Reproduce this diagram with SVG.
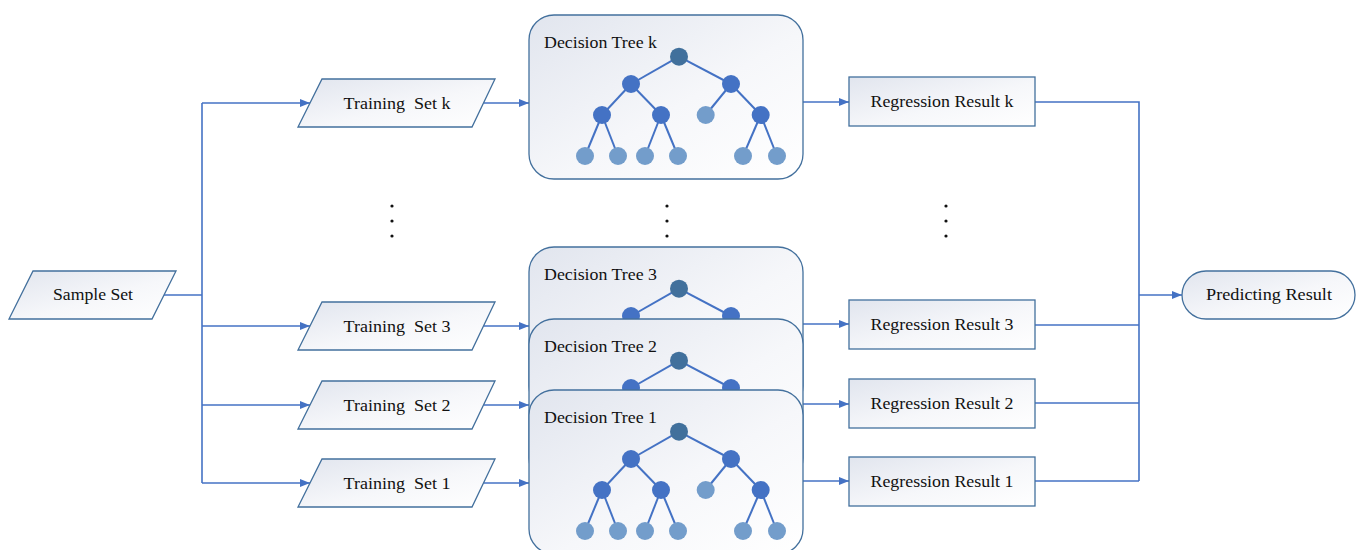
<svg xmlns="http://www.w3.org/2000/svg" xmlns:xlink="http://www.w3.org/1999/xlink" width="1362" height="550" viewBox="0 0 1362 550">
  <style>
    .shape { fill: url(#shapeFill); stroke: #43709D; stroke-width: 1.3; }
    .label { font-family: "Liberation Serif", "Times New Roman", serif; font-size: 17px; fill: #111; white-space: pre; }
    .mid { text-anchor: middle; }
    .wire { fill: none; stroke: #4472C4; stroke-width: 1.6; }
    .arrow { marker-end: url(#head); }
    .edge { stroke: #4472C4; stroke-width: 2; }
    .n-root { fill: #41709C; }
    .n-inner { fill: #4472C4; }
    .n-leaf { fill: #739DCB; }
    .dot { fill: #111; }
  </style>
  <defs>
    <linearGradient id="shapeFill" x1="0" y1="0" x2="1" y2="1">
      <stop offset="0" stop-color="#E1E5EE"/>
      <stop offset="0.55" stop-color="#F6F7FA"/>
      <stop offset="1" stop-color="#FFFFFF"/>
    </linearGradient>
    <marker id="head" viewBox="0 0 10 8" refX="10" refY="4" markerWidth="10" markerHeight="8" markerUnits="userSpaceOnUse" orient="auto">
      <path d="M0,0 L10,4 L0,8 z" fill="#4472C4"/>
    </marker>
    <!-- top of a tree: root and its two children (coordinates relative to box top) -->
    <g id="treeTop">
      <line class="edge" x1="679" y1="41.7" x2="631" y2="69"/>
      <line class="edge" x1="679" y1="41.7" x2="731" y2="69"/>
      <circle class="n-root" cx="679" cy="41.7" r="9"/>
      <circle class="n-inner" cx="631" cy="69" r="9"/>
      <circle class="n-inner" cx="731" cy="69" r="9"/>
    </g>
    <!-- full binary tree -->
    <g id="treeFull">
      <line class="edge" x1="631" y1="69" x2="602" y2="100"/>
      <line class="edge" x1="631" y1="69" x2="661" y2="100"/>
      <line class="edge" x1="731" y1="69" x2="705.7" y2="100"/>
      <line class="edge" x1="731" y1="69" x2="760.7" y2="100"/>
      <line class="edge" x1="602" y1="100" x2="585" y2="141"/>
      <line class="edge" x1="602" y1="100" x2="618" y2="141"/>
      <line class="edge" x1="661" y1="100" x2="645" y2="141"/>
      <line class="edge" x1="661" y1="100" x2="678" y2="141"/>
      <line class="edge" x1="760.7" y1="100" x2="743" y2="141"/>
      <line class="edge" x1="760.7" y1="100" x2="777" y2="141"/>
      <use xlink:href="#treeTop"/>
      <circle class="n-inner" cx="602" cy="100" r="9"/>
      <circle class="n-inner" cx="661" cy="100" r="9"/>
      <circle class="n-leaf" cx="705.7" cy="100" r="9"/>
      <circle class="n-inner" cx="760.7" cy="100" r="9"/>
      <circle class="n-leaf" cx="585" cy="141" r="9"/>
      <circle class="n-leaf" cx="618" cy="141" r="9"/>
      <circle class="n-leaf" cx="645" cy="141" r="9"/>
      <circle class="n-leaf" cx="678" cy="141" r="9"/>
      <circle class="n-leaf" cx="743" cy="141" r="9"/>
      <circle class="n-leaf" cx="777" cy="141" r="9"/>
    </g>
  </defs>

  <rect width="1362" height="550" fill="#FFFFFF"/>

  <!-- connectors -->
  <g id="connectors">
    <!-- sample set fan-out -->
    <path class="wire" d="M164,295 H202"/>
    <path class="wire" d="M202,103 V483"/>
    <path class="wire arrow" d="M202,103 H310"/>
    <path class="wire arrow" d="M202,326 H310"/>
    <path class="wire arrow" d="M202,405 H310"/>
    <path class="wire arrow" d="M202,483 H310"/>
    <!-- training sets to trees -->
    <path class="wire arrow" d="M484,103 H529"/>
    <path class="wire arrow" d="M484,326 H529"/>
    <path class="wire arrow" d="M484,405 H529"/>
    <path class="wire arrow" d="M484,483 H529"/>
    <!-- trees to regression results -->
    <path class="wire arrow" d="M803,102 H849"/>
    <path class="wire arrow" d="M803,324 H849"/>
    <path class="wire arrow" d="M803,404 H849"/>
    <path class="wire arrow" d="M803,481 H849"/>
    <!-- results merge -->
    <path class="wire" d="M1035,102 H1139 V481"/>
    <path class="wire" d="M1035,325 H1139"/>
    <path class="wire" d="M1035,403 H1139"/>
    <path class="wire" d="M1035,481 H1139"/>
    <path class="wire arrow" d="M1139,295 H1182"/>
  </g>

  <!-- ellipsis dots -->
  <g id="ellipsis">
    <circle class="dot" cx="392" cy="206" r="1.6"/>
    <circle class="dot" cx="392" cy="221" r="1.6"/>
    <circle class="dot" cx="392" cy="236" r="1.6"/>
    <circle class="dot" cx="667" cy="206" r="1.6"/>
    <circle class="dot" cx="667" cy="221" r="1.6"/>
    <circle class="dot" cx="667" cy="236" r="1.6"/>
    <circle class="dot" cx="946" cy="206" r="1.6"/>
    <circle class="dot" cx="946" cy="221" r="1.6"/>
    <circle class="dot" cx="946" cy="236" r="1.6"/>
  </g>

  <g id="sample-set">
    <polygon class="shape" points="33,271 176,271 152,319 9,319"/>
    <text class="label mid" x="93" y="300" textLength="80" lengthAdjust="spacingAndGlyphs">Sample Set</text>
  </g>

  <g id="training-set-k">
    <polygon class="shape" points="322,79 495,79 472,127 298,127"/>
    <text class="label mid" x="397" y="109" textLength="107" lengthAdjust="spacingAndGlyphs">Training  Set k</text>
  </g>
  <g id="training-set-3">
    <polygon class="shape" points="322,302 495,302 472,350 298,350"/>
    <text class="label mid" x="397" y="332" textLength="107" lengthAdjust="spacingAndGlyphs">Training  Set 3</text>
  </g>
  <g id="training-set-2">
    <polygon class="shape" points="322,381 495,381 472,429 298,429"/>
    <text class="label mid" x="397" y="411" textLength="107" lengthAdjust="spacingAndGlyphs">Training  Set 2</text>
  </g>
  <g id="training-set-1">
    <polygon class="shape" points="322,459 495,459 472,507 298,507"/>
    <text class="label mid" x="397" y="489" textLength="107" lengthAdjust="spacingAndGlyphs">Training  Set 1</text>
  </g>

  <g id="decision-tree-k">
    <rect class="shape" x="529" y="15" width="274" height="164" rx="25" ry="25"/>
    <text class="label" x="544" y="48" textLength="113" lengthAdjust="spacingAndGlyphs">Decision Tree k</text>
    <use xlink:href="#treeFull" y="15"/>
  </g>
  <g id="decision-tree-3">
    <rect class="shape" x="529" y="247" width="274" height="164" rx="25" ry="25"/>
    <text class="label" x="544" y="280" textLength="113" lengthAdjust="spacingAndGlyphs">Decision Tree 3</text>
    <use xlink:href="#treeTop" y="247"/>
  </g>
  <g id="decision-tree-2">
    <rect class="shape" x="529" y="319" width="274" height="164" rx="25" ry="25"/>
    <text class="label" x="544" y="352" textLength="113" lengthAdjust="spacingAndGlyphs">Decision Tree 2</text>
    <use xlink:href="#treeTop" y="319"/>
  </g>
  <g id="decision-tree-1">
    <rect class="shape" x="529" y="390" width="274" height="164" rx="25" ry="25"/>
    <text class="label" x="544" y="423" textLength="113" lengthAdjust="spacingAndGlyphs">Decision Tree 1</text>
    <use xlink:href="#treeFull" y="390"/>
  </g>

  <g id="regression-result-k">
    <rect class="shape" x="849" y="77" width="186" height="49"/>
    <text class="label mid" x="942" y="107" textLength="143" lengthAdjust="spacingAndGlyphs">Regression Result k</text>
  </g>
  <g id="regression-result-3">
    <rect class="shape" x="849" y="300" width="186" height="49"/>
    <text class="label mid" x="942" y="330" textLength="143" lengthAdjust="spacingAndGlyphs">Regression Result 3</text>
  </g>
  <g id="regression-result-2">
    <rect class="shape" x="849" y="379" width="186" height="49"/>
    <text class="label mid" x="942" y="409" textLength="143" lengthAdjust="spacingAndGlyphs">Regression Result 2</text>
  </g>
  <g id="regression-result-1">
    <rect class="shape" x="849" y="457" width="186" height="49"/>
    <text class="label mid" x="942" y="487" textLength="143" lengthAdjust="spacingAndGlyphs">Regression Result 1</text>
  </g>

  <g id="predicting-result">
    <rect class="shape" x="1182" y="271" width="173" height="48" rx="24" ry="24"/>
    <text class="label mid" x="1269" y="300" textLength="126" lengthAdjust="spacingAndGlyphs">Predicting Result</text>
  </g>
</svg>
